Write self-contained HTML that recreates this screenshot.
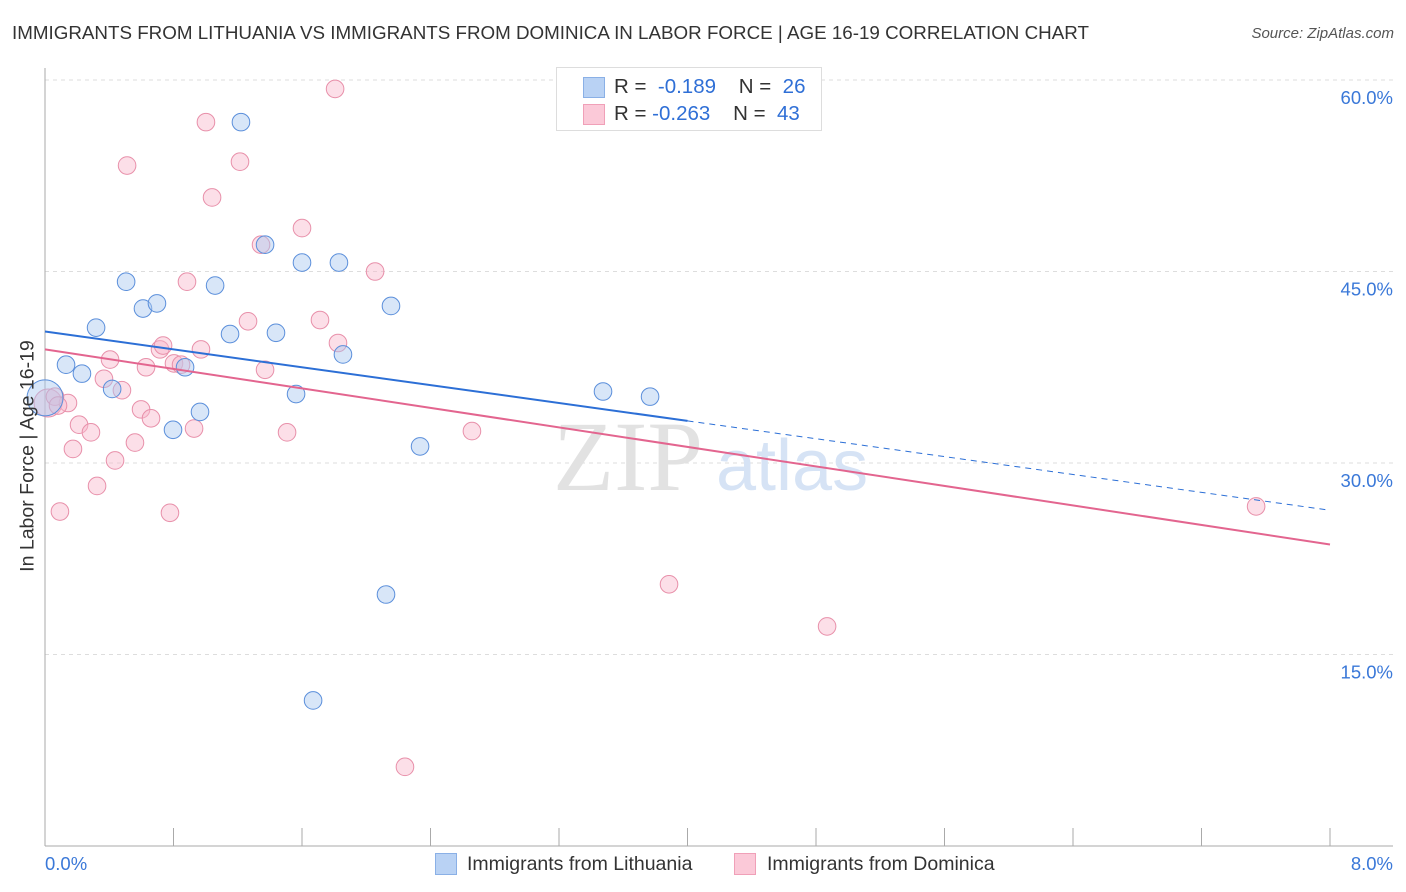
<!DOCTYPE html>
<html><head><meta charset="utf-8">
<style>
body{margin:0;background:#fff;font-family:"Liberation Sans",sans-serif;}
#wrap{position:relative;width:1406px;height:892px;overflow:hidden;}
.t{position:absolute;white-space:nowrap;}
</style></head>
<body>
<div id="wrap">
<div class="t" style="left:12px;top:22px;font-size:18.8px;color:#333;">IMMIGRANTS FROM LITHUANIA VS IMMIGRANTS FROM DOMINICA IN LABOR FORCE | AGE 16-19 CORRELATION CHART</div>
<div class="t" style="right:12px;top:25px;font-size:15px;color:#555;font-style:italic;">Source: ZipAtlas.com</div>
<svg id="plot" width="1406" height="892" style="position:absolute;left:0;top:0"></svg>
<div style="position:absolute;left:556px;top:67px;width:264px;height:62px;border:1px solid #ddd;background:#fff;font-size:20.5px;color:#333;">
 <div style="position:absolute;left:26px;top:9px;width:20px;height:19px;background:#b9d2f4;border:1px solid #8ab0e6;"></div>
 <div class="t" style="left:57px;top:7px;">R = &nbsp;<span style="color:#2f6fd6">-0.189</span>&nbsp;&nbsp;&nbsp; N = &nbsp;<span style="color:#2f6fd6">26</span></div>
 <div style="position:absolute;left:26px;top:36px;width:20px;height:19px;background:#fbc9d8;border:1px solid #f0a0b8;"></div>
 <div class="t" style="left:57px;top:34px;">R = <span style="color:#2f6fd6">-0.263</span>&nbsp;&nbsp;&nbsp; N = &nbsp;<span style="color:#2f6fd6">43</span></div>
</div>
<div class="t" style="left:28px;top:456px;font-size:19.5px;color:#333;transform:translate(-50%,-50%) rotate(-90deg);">In Labor Force | Age 16-19</div>
<div style="position:absolute;left:435px;top:853px;">
 <div style="position:absolute;left:0;top:0;width:20px;height:20px;background:#b9d2f4;border:1px solid #8ab0e6;"></div>
 <div class="t" style="left:32px;top:0px;font-size:19.5px;color:#333;">Immigrants from Lithuania</div>
</div>
<div style="position:absolute;left:734px;top:853px;">
 <div style="position:absolute;left:0;top:0;width:20px;height:20px;background:#fbc9d8;border:1px solid #f0a0b8;"></div>
 <div class="t" style="left:33px;top:0px;font-size:19.5px;color:#333;">Immigrants from Dominica</div>
</div>
</div>
<script>
const xTicks=[0,0.8,1.6,2.4,3.2,4,4.8,5.6,6.4,7.2,8];
const yTicks=[15,30,45,60];
const yTickLabels=["15.0%","30.0%","45.0%","60.0%"];
const xEndLabels=["0.0%","8.0%"];
const lithX=[0,0.131,0.230,0.318,0.418,0.505,0.610,0.697,0.797,0.872,0.965,1.059,1.152,1.220,1.370,1.438,1.563,1.600,1.830,1.855,2.154,2.123,2.335,1.669,3.474,3.767];
const lithY=[35.1,37.7,37.0,40.6,35.8,44.2,42.1,42.5,32.6,37.5,34.0,43.9,40.1,56.7,47.1,40.2,35.4,45.7,45.7,38.5,42.3,19.7,31.3,11.4,35.6,35.2];
const domX=[0.019,0.093,0.143,0.174,0.212,0.286,0.324,0.367,0.405,0.436,0.479,0.511,0.560,0.598,0.629,0.660,0.716,0.735,0.778,0.803,0.847,0.884,0.928,0.971,1.002,1.040,1.214,1.264,1.345,1.370,1.507,1.600,1.712,1.806,1.824,2.055,2.241,2.658,3.885,4.869,7.540,0.062,0.081];
const domY=[34.7,26.2,34.7,31.1,33.0,32.4,28.2,36.6,38.1,30.2,35.7,53.3,31.6,34.2,37.5,33.5,38.9,39.2,26.1,37.8,37.7,44.2,32.7,38.9,56.7,50.8,53.6,41.1,47.1,37.3,32.4,48.4,41.2,59.3,39.4,45.0,6.2,32.5,20.5,17.2,26.6,35.2,34.5];
const lithTrend=[40.3,-1.75];
const lithSolidEnd=4.0;
const domTrend=[38.9,-1.91];
const NS='http://www.w3.org/2000/svg';
const svg=document.getElementById('plot');
const X=v=>45+v/8*1285;
const Y=v=>846-v/15*191.5;
function mk(tag,attrs,parent){const e=document.createElementNS(NS,tag);for(const k in attrs)e.setAttribute(k,attrs[k]);(parent||svg).appendChild(e);return e;}
yTicks.forEach((t,i)=>{
 const g=mk('line',{x1:45,x2:1393,y1:Y(t),y2:Y(t),stroke:'#ddd','stroke-dasharray':'4,4'});
 
 
 const tx=mk('text',{x:1393,y:Y(t)+24,'text-anchor':'end','font-size':18.5,fill:'#3a78d8','font-family':'Liberation Sans, sans-serif'});
 tx.textContent=yTickLabels[i];
 
 
});
const ya=mk('line',{x1:45,x2:45,y1:68,y2:846,stroke:'#aaa'});


const xa=mk('line',{x1:45,x2:1393,y1:846,y2:846,stroke:'#aaa'});


xTicks.forEach(t=>{
 const tk=mk('line',{x1:X(t),x2:X(t),y1:828,y2:846,stroke:'#aaa'});
 
 
});
[[0,'start',45],[8,'end',1393]].forEach((d,i)=>{
 const tx=mk('text',{x:d[2],y:870,'text-anchor':d[1],'font-size':18.5,fill:'#3a78d8','font-family':'Liberation Sans, sans-serif'});
 tx.textContent=xEndLabels[i];
 
 
});
const wm=mk('text',{x:553,y:490,'font-size':100,fill:'#e2e2e2','font-family':'Liberation Serif, serif'});
wm.textContent='ZIP';


const wm2=mk('text',{x:716,y:490,'font-size':72,fill:'#d6e3f5','font-family':'Liberation Sans, sans-serif'});
wm2.textContent='atlas';


function dots(xs,ys,fill,stroke,name){
 xs.forEach((x,i)=>{
  const big=(i===0);
  const c=mk('circle',{cx:X(x),cy:Y(ys[i]),r:big?(name==='lithuania-point'?18:14):8.8,fill:fill,'fill-opacity':0.45,stroke:stroke,'stroke-width':1});
  
  
 });
}
dots(domX,domY,'#f8b8cc','#e890aa','dominica-point');
dots(lithX,lithY,'#a9c7f0','#5b8fdb','lithuania-point');
const tl=t=>x=>t[0]+t[1]*x;
const fb=tl(lithTrend),fp=tl(domTrend);
const l1=mk('line',{x1:X(0),y1:Y(fb(0)),x2:X(lithSolidEnd),y2:Y(fb(lithSolidEnd)),stroke:'#2c6fd6','stroke-width':2});


const l2=mk('line',{x1:X(lithSolidEnd),y1:Y(fb(lithSolidEnd)),x2:X(8),y2:Y(fb(8)),stroke:'#2c6fd6','stroke-width':1,'stroke-dasharray':'6,5'});


const l3=mk('line',{x1:X(0),y1:Y(fp(0)),x2:X(8),y2:Y(fp(8)),stroke:'#e3658f','stroke-width':2});


</script>
</body></html>
